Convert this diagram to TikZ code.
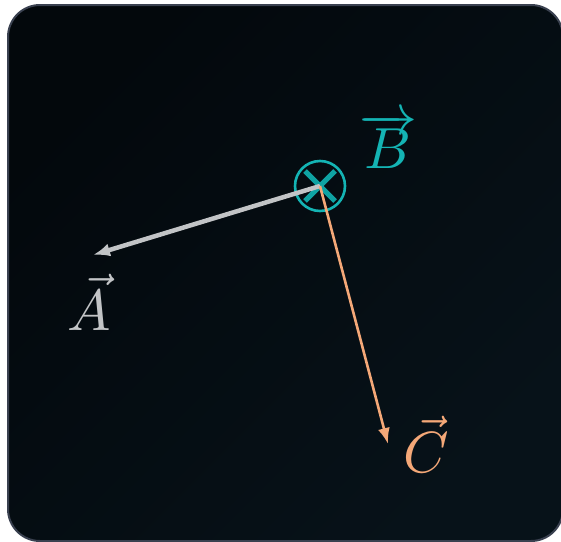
\documentclass[tikz,border=0pt]{standalone}
\usepackage{graphicx}
\usepackage{tikz}
\usetikzlibrary{positioning, arrows.meta, calc}

\definecolor{panelbg}{HTML}{03080C}
\definecolor{panelbg2}{HTML}{071219}
\definecolor{panelrim}{HTML}{3A4150}
\definecolor{vecgray}{HTML}{C2C4C6}
\definecolor{vecteal}{HTML}{14B4B4}
\definecolor{crossteal}{HTML}{0FA3A3}
\definecolor{vecpeach}{HTML}{F4A878}

\newcommand{\biglbl}[1]{\scalebox{5.8}{$#1$}}

\begin{document}
\begin{tikzpicture}[
    x=1pt, y=-1pt,
    lbl/.style={
        anchor=base,
        inner sep=0pt
    },
    fieldcirc/.style={
        circle,
        draw=vecteal,
        line width=2.6pt,
        minimum size=50pt,
        inner sep=0pt
    },
    crossline/.style={crossteal, line width=5pt},
    vecA/.style={-{Latex[length=17pt, width=13pt]}, vecgray, line width=4.5pt},
    vecC/.style={-{Latex[length=16pt, width=12pt]}, vecpeach, line width=2.6pt}
]

\useasboundingbox (0,0) rectangle (561,541);

% Panel
\shade[left color=panelbg, right color=panelbg2, shading angle=45, rounded corners=32pt]
    (8,5) rectangle (563,541);
\draw[panelrim, line width=2pt, rounded corners=32pt] (8,5) rectangle (563,541);

% Field into the page
\node[fieldcirc] (fb) at (320,186) {};
\draw[crossline] ($(fb.center)+(-15,-15)$) -- ($(fb.center)+(15,15)$);
\draw[crossline] ($(fb.center)+(-15,15)$) -- ($(fb.center)+(15,-15)$);

% Vector tips
\coordinate (ta) at (93,255);
\coordinate (tc) at (388,444);

\draw[vecA] (fb.center) -- (ta);
\draw[vecC] (fb.center) -- (tc);

% Labels
\node[lbl, text=vecgray] (la) at (89,330) {\biglbl{\vec{A}}};
\node[lbl, text=vecteal] (lb) at (388,168) {\biglbl{\overrightarrow{B}}};
\node[lbl, text=vecpeach] (lc) at (426,472) {\biglbl{\vec{C}}};

\end{tikzpicture}
\end{document}
